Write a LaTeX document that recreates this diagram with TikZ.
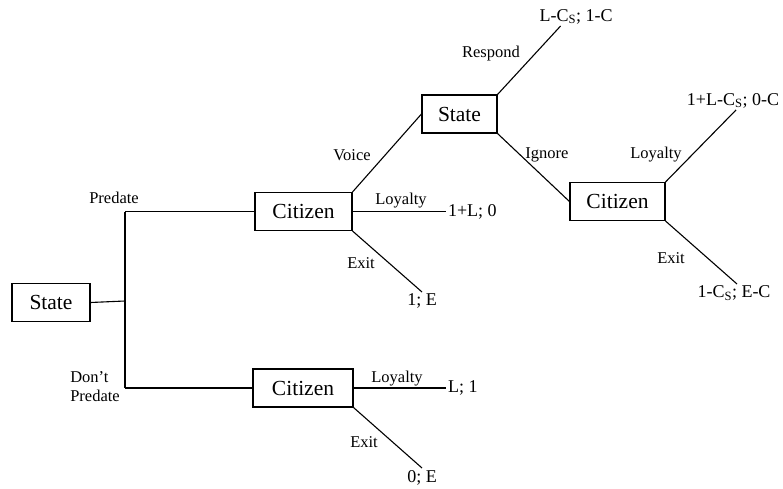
\documentclass[tikz,border=0pt]{standalone}
\usepackage{fontspec}
\setmainfont{Liberation Serif}
\usetikzlibrary{calc}
\begin{document}
\begin{tikzpicture}[x=1pt,y=-1pt,line width=1.1pt,
	player/.style={draw,inner sep=0pt,minimum height=38,font=\fontsize{21.5}{23}\selectfont},
	move/.style={inner sep=0pt,font=\fontsize{16.5}{19}\selectfont},
	payoff/.style={inner sep=1.5pt,font=\fontsize{18}{20}\selectfont}]
	\useasboundingbox (0,0) rectangle (783,489);

	\coordinate (fork) at (125,301);
	\coordinate (P) at (125,211.5);
	\coordinate (D) at (125,388);

	\node[player,minimum width=78] (S1) at (51,302.5) {State};
	\node[player,minimum width=97] (C1) at (303.5,211.5) {Citizen};
	\node[player,minimum width=100] (C2) at (303,388) {Citizen};
	\node[player,minimum width=75] (S2) at (459.5,114) {State};
	\node[player,minimum width=95] (C3) at (617.5,201.5) {Citizen};

	\node[payoff,anchor=west] (C1L) at (446,211.5) {1+L; 0};
	\node[payoff,anchor=north] (C1E) at (422,292) {1; E};
	\node[payoff,anchor=west] (C2L) at (446,388) {L; 1};
	\node[payoff,anchor=north] (C2E) at (422,468) {0; E};
	\node[payoff,anchor=south] (S2R) at (576,26) {L-C\textsubscript{S}; 1-C};
	\node[payoff,anchor=south] (C3L) at (733,110) {1+L-C\textsubscript{S}; 0-C};
	\node[payoff,anchor=north] (C3E) at (734,284) {1-C\textsubscript{S}; E-C};

	\node[move] (mP) at (114,198) {Predate};
	\node[move,align=left] (mD) at (95,387) {Don't\\Predate};
	\node[move] (mV) at (352,155) {Voice};
	\node[move] (mC1L) at (401,201) {Loyalty};
	\node[move] (mC1E) at (361,263) {Exit};
	\node[move] (mC2L) at (397,379) {Loyalty};
	\node[move] (mC2E) at (364,442) {Exit};
	\node[move] (mR) at (491,54) {Respond};
	\node[move] (mI) at (547,155) {Ignore};
	\node[move] (mC3L) at (656,155) {Loyalty};
	\node[move] (mC3E) at (671,258) {Exit};

	\draw (S1.east) -- (fork);
	\draw (P) -- (D);
	\draw (P) -- (C1.west);
	\draw (D) -- (C2.west);

	\draw (C1.east) -- (C1L.west);
	\draw (C1.south east) -- (C1E.north);
	\draw (C1.north east) -- (S2.west);

	\draw (C2.east) -- (C2L.west);
	\draw (C2.south east) -- (C2E.north);

	\draw (S2.north east) -- ($(S2R.south west)!0.3!(S2R.south east)$);
	\draw (S2.south east) -- (C3.west);

	\draw (C3.north east) -- ($(C3L.south)+(3,0)$);
	\draw (C3.south east) -- ($(C3E.north)+(3,0)$);
\end{tikzpicture}
\end{document}
